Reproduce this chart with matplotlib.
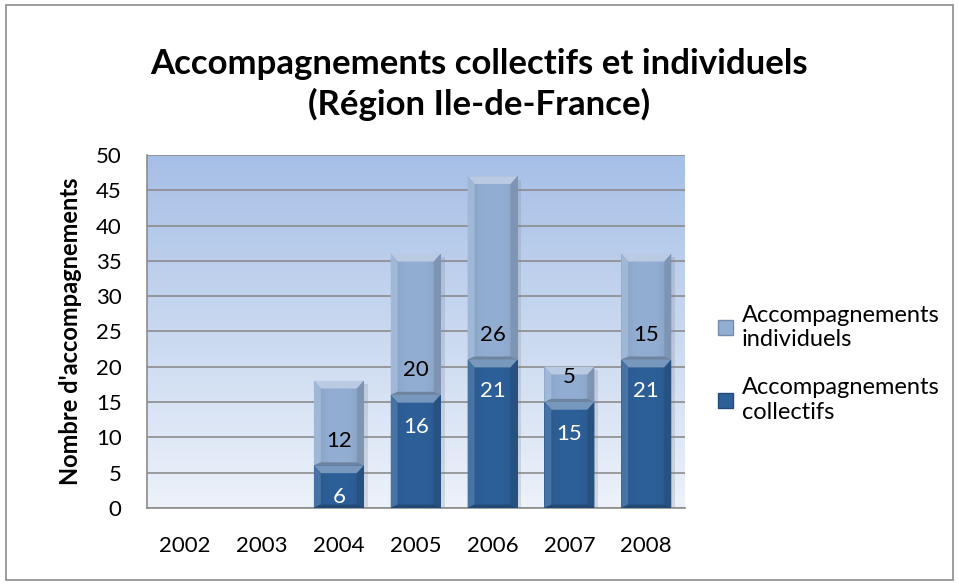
import numpy as np
import matplotlib.pyplot as plt
from matplotlib.patches import Polygon, Rectangle
from matplotlib.colors import to_rgb

plt.rcParams['font.family'] = ['Lato', 'DejaVu Sans']

years = ['2002', '2003', '2004', '2005', '2006', '2007', '2008']
collectifs = [0, 0, 6, 16, 21, 15, 21]
individuels = [0, 0, 12, 20, 26, 5, 15]

c_coll = '#2d5f98'
c_indiv = '#93aed3'


def shade(color, f):
    r = np.array(to_rgb(color))
    if f >= 0:
        return tuple(r + (1 - r) * f)
    return tuple(r * (1 + f))


def bevel_bar(ax, x, bottom, height, width, color):
    if height <= 0:
        return
    x0, x1 = x - width / 2, x + width / 2
    y0, y1 = bottom, bottom + height
    bx, by = 0.09, 1.1
    # body with horizontal gradient
    rect = Rectangle((x0, y0), width, height, facecolor='none', edgecolor='none', zorder=3)
    ax.add_patch(rect)
    prof = np.abs(np.linspace(-1, 1, 64))
    rgb = np.array(to_rgb(color))
    row = np.array([rgb * (1 - 0.12 * p ** 3) for p in prof])
    img = np.repeat(row[None, :, :], 2, axis=0)
    im = ax.imshow(img, extent=(x0, x1, y0, y1), aspect='auto', zorder=3, interpolation='bilinear')
    im.set_clip_path(rect)
    # bevel: top, left, right, bottom
    ax.add_patch(Polygon([(x0, y1), (x1, y1), (x1 - bx, y1 - by), (x0 + bx, y1 - by)],
                         closed=True, facecolor=shade(color, 0.35), edgecolor='none', zorder=4))
    ax.add_patch(Polygon([(x0, y0), (x0, y1), (x0 + bx, y1 - by), (x0 + bx, y0 + by * 0.4)],
                         closed=True, facecolor=shade(color, 0.12), edgecolor='none', zorder=4))
    ax.add_patch(Polygon([(x1, y0), (x1, y1), (x1 - bx, y1 - by), (x1 - bx, y0 + by * 0.4)],
                         closed=True, facecolor=shade(color, -0.15), edgecolor='none', zorder=4))
    ax.add_patch(Polygon([(x0, y0), (x1, y0), (x1 - bx, y0 + by * 0.4), (x0 + bx, y0 + by * 0.4)],
                         closed=True, facecolor=shade(color, -0.25), edgecolor='none', zorder=4))


fig = plt.figure(figsize=(9.59, 5.85), dpi=100)
fig.patches.append(Rectangle((0.006, 0.009), 0.988, 0.982, transform=fig.transFigure,
                             fill=False, edgecolor='#8c8c8c', linewidth=1.2))

ax = fig.add_axes([0.153, 0.132, 0.561, 0.603])
x = np.arange(len(years))
width = 0.65

ax.set_xlim(-0.5, len(years) - 0.5)
ax.set_ylim(0, 50)

# plot background gradient
grad = np.linspace(0, 1, 256)[:, None]
top = np.array(to_rgb('#a6bfe6'))
bot = np.array(to_rgb('#edf2fa'))
bg = bot + (top - bot) * grad[:, :, None] * np.ones((1, 2, 1))
ax.imshow(bg, extent=(-0.5, len(years) - 0.5, 0, 50), origin='lower', aspect='auto', zorder=0)

ax.set_yticks(np.arange(0, 51, 5))
ax.yaxis.grid(True, color='#8c8c8c', linewidth=1.2, zorder=1)
ax.set_axisbelow(True)

for xi, c, i in zip(x, collectifs, individuels):
    # soft shadow
    if c + i > 0:
        ax.add_patch(Rectangle((xi - width / 2 + 0.05, 0), width, c + i - 0.5,
                               facecolor='#7f8a99', alpha=0.25, edgecolor='none', zorder=2))
    bevel_bar(ax, xi, 0, c, width, c_coll)
    bevel_bar(ax, xi, c, i, width, c_indiv)
    if c > 0:
        ax.text(xi, c - 4.5, str(c), ha='center', va='center', color='white', fontsize=16, zorder=5)
    if i > 0:
        ax.text(xi, c + 3.5, str(i), ha='center', va='center', color='black', fontsize=16, zorder=5)

ax.set_xticks(x)
ax.set_xticklabels(years)
ax.tick_params(axis='both', length=0, labelsize=16, colors='black')
ax.tick_params(axis='x', pad=20)
ax.tick_params(axis='y', pad=18)
for s in ['top', 'right']:
    ax.spines[s].set_visible(False)
ax.spines['left'].set_color('#8c8c8c')
ax.spines['bottom'].set_color('#8c8c8c')
ax.spines['left'].set_linewidth(1.2)
ax.spines['bottom'].set_linewidth(1.2)

ax.set_ylabel("Nombre d'accompagnements", fontsize=17, fontweight='bold', labelpad=10)

fig.suptitle('Accompagnements collectifs et individuels\n(Région Ile-de-France)',
             fontsize=25, fontweight='bold', y=0.918, linespacing=1.3)

h1 = Rectangle((0, 0), 1, 1, facecolor=c_indiv, edgecolor=shade(c_indiv, -0.2))
h2 = Rectangle((0, 0), 1, 1, facecolor=c_coll, edgecolor=shade(c_coll, -0.2))
fig.legend([h1, h2], ['Accompagnements\nindividuels', 'Accompagnements\ncollectifs'],
           loc='center left', bbox_to_anchor=(0.727, 0.378), frameon=False, fontsize=17,
           handlelength=0.6, handleheight=0.6, handletextpad=0.4, labelspacing=1.15)

fig.savefig('out.png', dpi=100)
